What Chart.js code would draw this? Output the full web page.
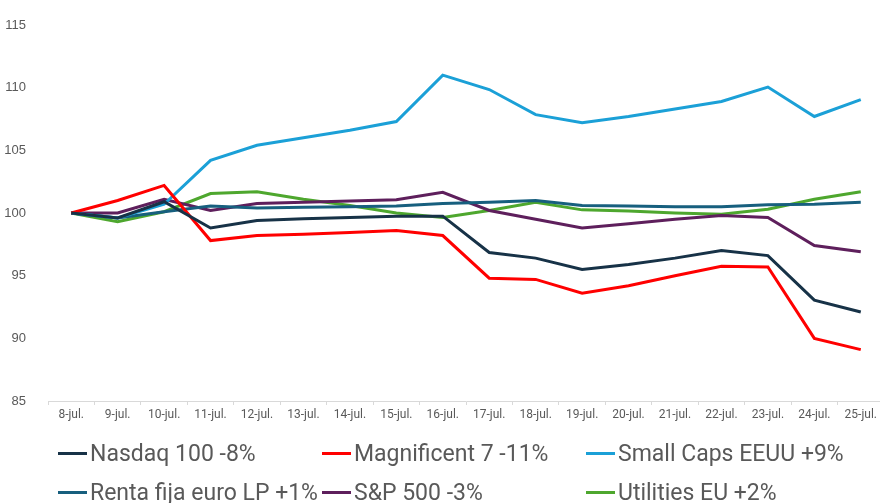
<!DOCTYPE html>
<html>
<head>
<meta charset="utf-8">
<script src="https://cdn.jsdelivr.net/npm/chart.js@4.4.1/dist/chart.umd.min.js"></script>
<style>
  html, body { margin: 0; padding: 0; background: #fff; overflow: hidden; }
  #wrap { position: relative; width: 880px; height: 503px; overflow: hidden; }
  #chartBox { position: absolute; left: 0; top: 0; width: 884px; height: 430px; }
  #legend { position: absolute; left: 0; top: 0; width: 880px; height: 503px; pointer-events: none; }
  .item { position: absolute; display: flex; align-items: center; white-space: nowrap;
          font-family: 'Liberation Sans Narrow', 'Roboto', sans-serif; font-size: 23px; color: #595959; }
  .item .mark { width: 29px; height: 3px; margin-right: 3px; }
</style>
</head>
<body>
<div id="wrap">
  <div id="chartBox"><canvas id="lineChart"></canvas></div>
  <div id="legend"></div>
</div>
<script>
(function () {
  'use strict';

  // --- Data ---
  const days = ['8-jul.', '9-jul.', '10-jul.', '11-jul.', '12-jul.', '13-jul.', '14-jul.', '15-jul.', '16-jul.',
    '17-jul.', '18-jul.', '19-jul.', '20-jul.', '21-jul.', '22-jul.', '23-jul.', '24-jul.', '25-jul.'];

  const nasdaq100 = [100, 99.6, 100.9, 98.8, 99.4, 99.55, 99.65, 99.75, 99.75, 96.85, 96.4, 95.5, 95.9, 96.4, 97.0, 96.6, 93.05, 92.1];
  const magnificent7 = [100, 101.0, 102.2, 97.8, 98.2, 98.3, 98.45, 98.6, 98.2, 94.8, 94.7, 93.6, 94.2, 95.0, 95.75, 95.7, 90.0, 89.1];
  const smallCaps = [100, 99.6, 100.7, 104.2, 105.4, 106.0, 106.6, 107.3, 111.0, 109.85, 107.85, 107.2, 107.7, 108.3, 108.9, 110.05, 107.7, 109.05];
  const rentaFija = [100, 99.6, 100.1, 100.55, 100.4, 100.45, 100.5, 100.55, 100.75, 100.85, 101.0, 100.6, 100.55, 100.5, 100.5, 100.65, 100.7, 100.85];
  const sp500 = [100, 100.0, 101.1, 100.2, 100.75, 100.85, 100.95, 101.05, 101.65, 100.2, 99.5, 98.8, 99.15, 99.5, 99.8, 99.65, 97.4, 96.9];
  const utilitiesEU = [100, 99.3, 100.1, 101.55, 101.7, 101.1, 100.6, 100.0, 99.65, 100.2, 100.85, 100.25, 100.15, 100.0, 99.9, 100.3, 101.1, 101.7];

  const yTicks = [85, 90, 95, 100, 105, 110, 115];

  const series = [
    { label: 'Nasdaq 100 -8%', data: nasdaq100, color: '#173247' },
    { label: 'Magnificent 7 -11%', data: magnificent7, color: '#ff0000' },
    { label: 'Small Caps EEUU +9%', data: smallCaps, color: '#1ba0d7' },
    { label: 'Renta fija euro LP +1%', data: rentaFija, color: '#175f7e' },
    { label: 'S&P 500 -3%', data: sp500, color: '#5e1f5c' },
    { label: 'Utilities EU +2%', data: utilitiesEU, color: '#4ea72e' }
  ];

  // --- Chart ---
  const ctx = document.getElementById('lineChart');
  const chart = new Chart(ctx, {
    type: 'line',
    data: {
      labels: days,
      datasets: series.map(function (s) {
        return {
          label: s.label,
          data: s.data,
          borderColor: s.color,
          backgroundColor: s.color,
          borderWidth: 3,
          pointRadius: 0,
          tension: 0,
          fill: false
        };
      })
    },
    options: {
      responsive: true,
      maintainAspectRatio: false,
      animation: false,
      layout: { padding: { top: 25, left: 0, right: 0, bottom: 0 } },
      plugins: {
        legend: { display: false },
        tooltip: { enabled: false }
      },
      scales: {
        x: {
          offset: true,
          grid: { display: true, drawOnChartArea: false, drawTicks: true, tickLength: 4, color: '#d9d9d9', offset: true },
          border: { display: true, color: '#d9d9d9', width: 1 },
          ticks: {
            padding: 3,
            maxRotation: 0,
            autoSkip: false,
            color: '#595959',
            font: { family: "'Liberation Sans Narrow', 'Roboto', sans-serif", size: 12 }
          },
          afterFit: function (axis) { axis.height = 29; }
        },
        y: {
          min: 85,
          max: 115,
          afterBuildTicks: function (axis) {
            axis.ticks = yTicks.map(function (v) { return { value: v }; });
          },
          grid: { display: false },
          border: { display: false },
          ticks: {
            padding: 14,
            color: '#595959',
            font: { family: "'Liberation Sans', 'Inter', sans-serif", size: 13 }
          },
          afterFit: function (axis) { axis.width = 48; }
        }
      }
    }
  });

  // --- HTML legend in a 3-column grid ---
  const legendEl = document.getElementById('legend');
  const colX = [58, 322, 586];
  const rowY = [454, 493];
  chart.data.datasets.forEach(function (ds, i) {
    const item = document.createElement('div');
    item.className = 'item';
    const mark = document.createElement('span');
    mark.className = 'mark';
    mark.style.background = ds.borderColor;
    const txt = document.createElement('span');
    txt.textContent = ds.label;
    item.appendChild(mark);
    item.appendChild(txt);
    item.style.left = colX[i % 3] + 'px';
    item.style.top = (rowY[Math.floor(i / 3)] - 14) + 'px';
    legendEl.appendChild(item);
  });
})();
</script>
</body>
</html>
